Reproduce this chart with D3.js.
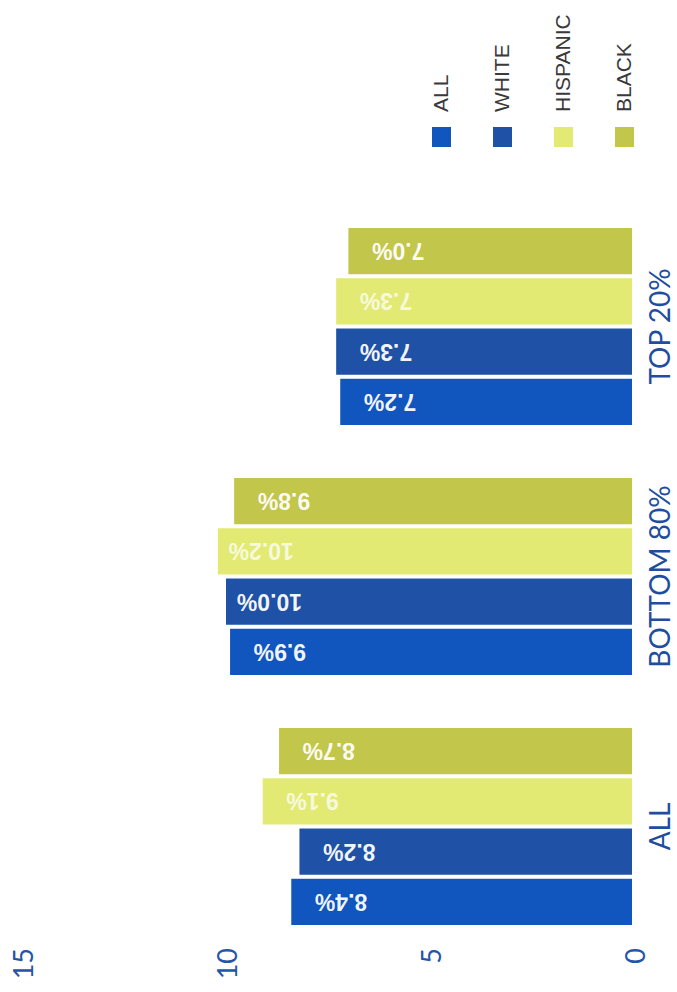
<!DOCTYPE html>
<html>
<head>
<meta charset="utf-8">
<script src="https://cdn.jsdelivr.net/npm/d3@7"></script>
<style>
  html, body { margin: 0; padding: 0; background: #ffffff; }
  svg { display: block; }
</style>
</head>
<body>
<svg id="chart" width="677" height="992"></svg>
<script>
// Income groups and the series shown for each of them
const categories = ["ALL", "BOTTOM 80%", "TOP 20%"];
const seriesNames = ["ALL", "WHITE", "HISPANIC", "BLACK"];
const allValues      = [8.4, 9.9, 7.2];
const whiteValues    = [8.2, 10.0, 7.3];
const hispanicValues = [9.1, 10.2, 7.3];
const blackValues    = [8.7, 9.8, 7.0];
const valueLabels = {
  "ALL":      ["8.4%", "9.9%", "7.2%"],
  "WHITE":    ["8.2%", "10.0%", "7.3%"],
  "HISPANIC": ["9.1%", "10.2%", "7.3%"],
  "BLACK":    ["8.7%", "9.8%", "7.0%"]
};
const tickValues = [0, 5, 10, 15];

const seriesValues = {
  "ALL": allValues,
  "WHITE": whiteValues,
  "HISPANIC": hispanicValues,
  "BLACK": blackValues
};
const colors = {
  "ALL": "#1155bf",
  "WHITE": "#1f51a6",
  "HISPANIC": "#e2ea74",
  "BLACK": "#c2c64b"
};

const svg = d3.select("#chart");

// The chart is laid out sideways: values grow right-to-left, groups stack top-to-bottom
const x = d3.scaleLinear().domain([0, 15]).range([634, 22]);

const yGroup = d3.scaleBand()
  .domain(categories.slice().reverse())
  .range([201.5, 951.5])
  .paddingInner(0.212)
  .paddingOuter(0.106);

const ySeries = d3.scaleBand()
  .domain(seriesNames.slice().reverse())
  .range([0, yGroup.bandwidth()])
  .paddingInner(0.08);

const rows = [];
categories.forEach((c, i) => {
  seriesNames.forEach(s => {
    rows.push({ cat: c, series: s, value: seriesValues[s][i], label: valueLabels[s][i] });
  });
});

const groups = svg.append("g").attr("class", "bars");

groups.selectAll("rect")
  .data(rows)
  .join("rect")
  .attr("x", d => x(d.value))
  .attr("y", d => yGroup(d.cat) + ySeries(d.series))
  .attr("width", d => x(0) - 2 - x(d.value))
  .attr("height", ySeries.bandwidth())
  .attr("fill", d => colors[d.series]);

// Value labels inside the bars, turned upside down
groups.selectAll("text")
  .data(rows)
  .join("text")
  .attr("transform", d => {
    const tx = x(d.value) + 76;
    const ty = yGroup(d.cat) + ySeries(d.series) + ySeries.bandwidth() / 2;
    return `translate(${tx},${ty}) rotate(180)`;
  })
  .attr("text-anchor", "start")
  .attr("dominant-baseline", "central")
  .attr("font-family", "'Liberation Sans', Arial, sans-serif")
  .attr("font-weight", "bold")
  .attr("font-size", 23)
  .attr("fill", "#ffffff")
  .attr("fill-opacity", d => d.series === "HISPANIC" ? 0.75 : 0.95)
  .text(d => d.label);

// Category labels
svg.append("g").selectAll("text")
  .data(categories)
  .join("text")
  .attr("transform", d => `translate(659,${yGroup(d) + yGroup.bandwidth() / 2}) rotate(-90)`)
  .attr("text-anchor", "middle")
  .attr("dominant-baseline", "central")
  .attr("font-family", "Lato, sans-serif")
  .attr("font-size", 28)
  .attr("fill", "#1f4e9e")
  .text(d => d);

// Value axis along the bottom edge
const axis = d3.axisBottom(x).tickValues(tickValues).tickSize(0).tickFormat(d3.format("d"));
const axisG = svg.append("g")
  .attr("transform", "translate(0,948)")
  .call(axis);
axisG.select(".domain").remove();
axisG.selectAll(".tick text")
  .attr("transform", "rotate(-90)")
  .attr("x", 0)
  .attr("y", 0)
  .attr("dy", null)
  .attr("text-anchor", "end")
  .attr("dominant-baseline", "central")
  .attr("font-family", "Lato, sans-serif")
  .attr("font-size", 27)
  .attr("fill", "#2455a8");

// Legend across the top right
const legendX = d3.scalePoint().domain(seriesNames).range([442, 625]);
const legend = svg.append("g").selectAll("g")
  .data(seriesNames)
  .join("g")
  .attr("transform", d => `translate(${legendX(d)},0)`);

legend.append("rect")
  .attr("x", -10)
  .attr("y", 127)
  .attr("width", 19)
  .attr("height", 20)
  .attr("fill", d => colors[d]);

legend.append("text")
  .attr("transform", "translate(-2,112) rotate(-90)")
  .attr("text-anchor", "start")
  .attr("dominant-baseline", "central")
  .attr("font-family", "'Liberation Sans', Arial, sans-serif")
  .attr("font-size", 21)
  .attr("fill", "#3a3a3a")
  .text(d => d);
</script>
</body>
</html>
